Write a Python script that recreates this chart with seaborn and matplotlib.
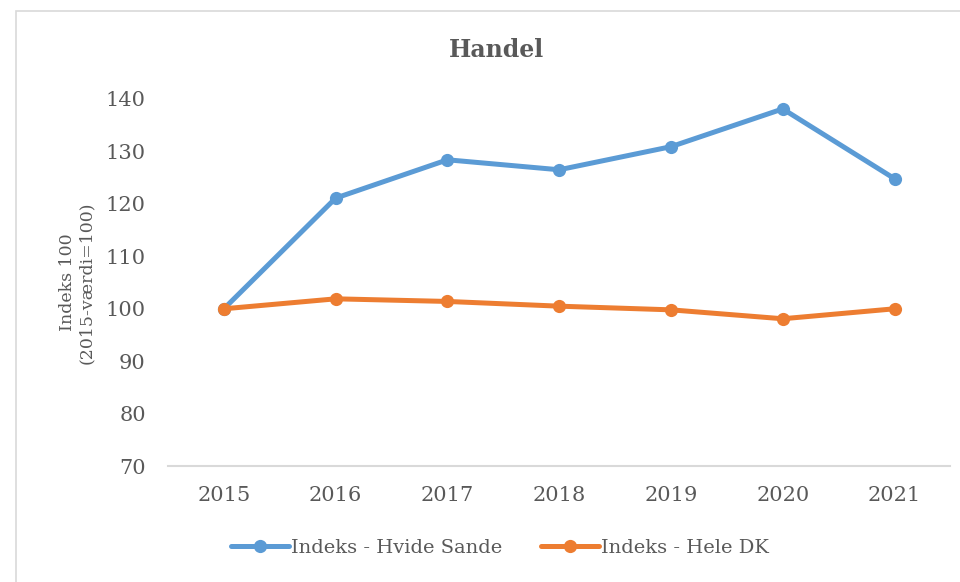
import pandas as pd
import seaborn as sns
import matplotlib.pyplot as plt
from matplotlib.patches import Rectangle

# Data
years = [2015, 2016, 2017, 2018, 2019, 2020, 2021]
hvide_sande = [100, 121.1, 128.4, 126.5, 130.9, 138.1, 124.8]
hele_dk = [100, 101.9, 101.4, 100.5, 99.8, 98.1, 100]
series_names = ['Indeks - Hvide Sande', 'Indeks - Hele DK']
colors = ['#5B9BD5', '#ED7D31']

df = pd.DataFrame({
    'År': years * 2,
    'Indeks': hvide_sande + hele_dk,
    'Serie': [series_names[0]] * len(years) + [series_names[1]] * len(years),
})

sns.set_style('white')
plt.rcParams['font.family'] = ['DejaVu Serif']
grey = '#595959'

fig = plt.figure(figsize=(9.6, 5.82), dpi=100)
ax = fig.add_axes([0.175, 0.199, 0.815, 0.631])

sns.lineplot(data=df, x='År', y='Indeks', hue='Serie', palette=colors,
             marker='o', markersize=9.5, markeredgewidth=0, linewidth=3.6,
             ax=ax, legend=True)

ax.set_xlim(2014.5, 2021.5)
ax.set_ylim(70, 140)
ax.set_xticks(years)
ax.set_yticks(range(70, 141, 10))
ax.tick_params(axis='both', length=0, labelsize=15, labelcolor=grey)
ax.tick_params(axis='x', pad=14)
ax.tick_params(axis='y', pad=16)
for s in ['top', 'right', 'left']:
    ax.spines[s].set_visible(False)
ax.spines['bottom'].set_color('#D9D9D9')
ax.spines['bottom'].set_linewidth(1.5)

ax.set_xlabel('')
ax.set_ylabel('Indeks 100\n(2015-værdi=100)', fontsize=12.5, color=grey,
              labelpad=8, linespacing=1.1)

handles, labels = ax.get_legend_handles_labels()
ax.legend(handles, labels, loc='center', bbox_to_anchor=(500 / 960, 1 - 548 / 582),
          bbox_transform=fig.transFigure, ncol=2, frameon=False, fontsize=14,
          labelcolor=grey, handlelength=3, handletextpad=0.1, columnspacing=2.0)

fig.text(497 / 960, 1 - 50 / 582, 'Handel', ha='center', va='center',
         fontsize=17, fontweight='bold', color=grey)

fig.patches.append(Rectangle((16 / 960, -0.05), 1.0, 1 - 11 / 582 + 0.05,
                             transform=fig.transFigure, fill=False,
                             edgecolor='#D9D9D9', linewidth=1.2))

fig.savefig('out.png', dpi=100)
